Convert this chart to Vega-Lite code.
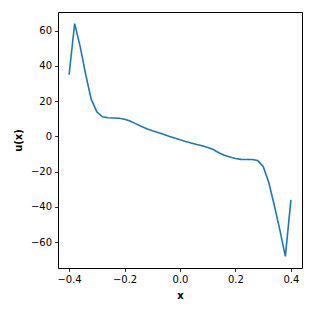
{
  "$schema": "https://vega.github.io/schema/vega-lite/v6.json",
  "width": 244,
  "height": 256,
  "autosize": "none",
  "padding": {"left": 58, "top": 12, "right": 12, "bottom": 46},
  "background": "white",
  "config": {
    "view": {"stroke": "#000000", "strokeWidth": 1},
    "font": "DejaVu Sans",
    "axis": {
      "grid": false,
      "domain": false,
      "tickColor": "#000000",
      "tickSize": 3.5,
      "tickWidth": 0.8,
      "labelColor": "#000000",
      "labelFontSize": 10,
      "labelFont": "DejaVu Sans",
      "labelPadding": 3,
      "titleFont": "DejaVu Sans",
      "titleFontSize": 10,
      "titleFontWeight": "bold",
      "titleColor": "#000000"
    }
  },
  "data": {
    "values": [
      {"x": -0.40, "u": 35},
      {"x": -0.38, "u": 64},
      {"x": -0.36, "u": 51},
      {"x": -0.34, "u": 35},
      {"x": -0.32, "u": 21},
      {"x": -0.30, "u": 14},
      {"x": -0.28, "u": 11.2},
      {"x": -0.26, "u": 10.6},
      {"x": -0.24, "u": 10.5},
      {"x": -0.22, "u": 10.3},
      {"x": -0.20, "u": 9.8},
      {"x": -0.18, "u": 8.8},
      {"x": -0.16, "u": 7.3},
      {"x": -0.14, "u": 5.8},
      {"x": -0.12, "u": 4.4},
      {"x": -0.10, "u": 3.2},
      {"x": -0.08, "u": 2.2},
      {"x": -0.06, "u": 1.2},
      {"x": -0.04, "u": 0.1},
      {"x": -0.02, "u": -0.9},
      {"x": 0.00, "u": -1.9},
      {"x": 0.02, "u": -2.8},
      {"x": 0.04, "u": -3.7},
      {"x": 0.06, "u": -4.5},
      {"x": 0.08, "u": -5.3},
      {"x": 0.10, "u": -6.2},
      {"x": 0.12, "u": -7.4},
      {"x": 0.14, "u": -9.2},
      {"x": 0.16, "u": -10.7},
      {"x": 0.18, "u": -11.7},
      {"x": 0.20, "u": -12.5},
      {"x": 0.22, "u": -13.0},
      {"x": 0.24, "u": -13.1},
      {"x": 0.26, "u": -13.1},
      {"x": 0.28, "u": -13.6},
      {"x": 0.30, "u": -17},
      {"x": 0.32, "u": -26},
      {"x": 0.34, "u": -39},
      {"x": 0.36, "u": -53},
      {"x": 0.38, "u": -68},
      {"x": 0.40, "u": -36}
    ]
  },
  "mark": {"type": "line", "color": "#1f77b4", "strokeWidth": 1.6, "interpolate": "linear", "clip": true},
  "encoding": {
    "x": {
      "field": "x",
      "type": "quantitative",
      "title": "x",
      "scale": {"domain": [-0.44, 0.44], "nice": false, "zero": false},
      "axis": {"values": [-0.4, -0.2, 0, 0.2, 0.4], "format": ".1f", "titlePadding": 6}
    },
    "y": {
      "field": "u",
      "type": "quantitative",
      "title": "u(x)",
      "scale": {"domain": [-74.6, 70.6], "nice": false, "zero": false},
      "axis": {"values": [-60, -40, -20, 0, 20, 40, 60], "format": "d", "titlePadding": 7}
    }
  }
}
